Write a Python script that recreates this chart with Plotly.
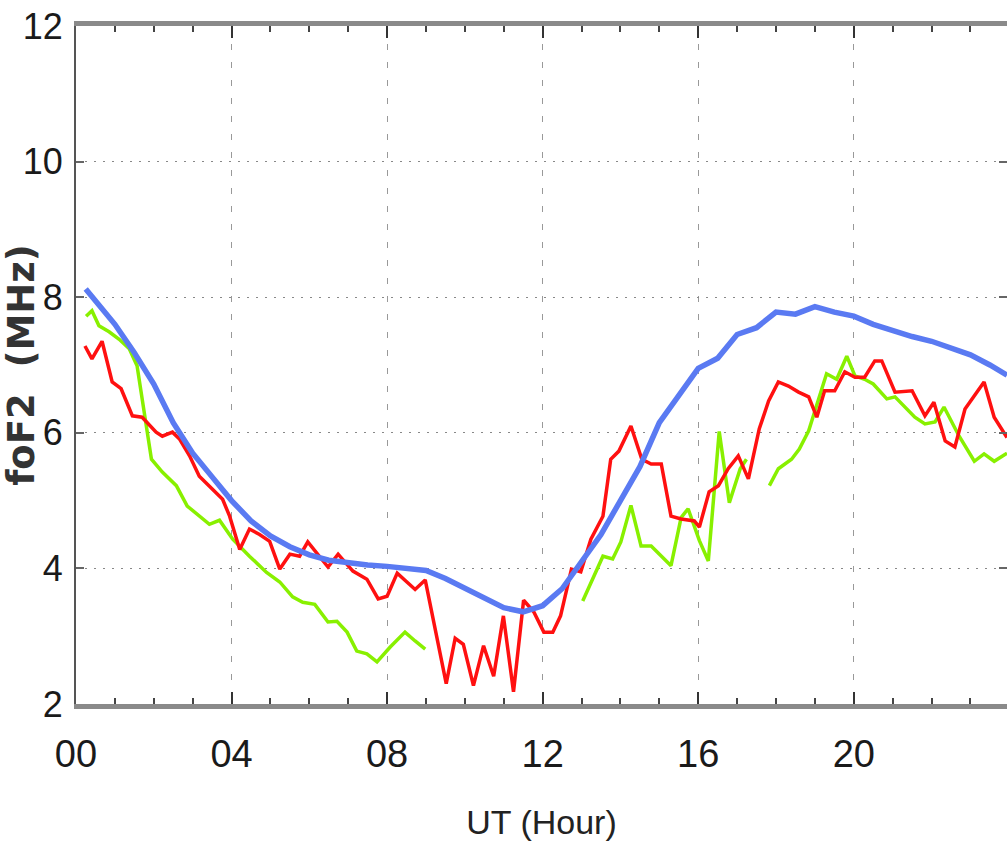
import plotly.graph_objects as go

# ---- data (UT hour, foF2 MHz) ----
blue_hours = [0.25, 0.5, 1.0, 1.5, 2.0, 2.5, 3.0, 3.5, 4.0, 4.5, 5.0, 5.5, 6.0, 6.5, 7.0, 7.5,
              8.0, 8.5, 9.0, 9.5, 10.0, 10.5, 11.0, 11.5, 12.0, 12.5, 13.0, 13.5, 14.0, 14.5,
              15.0, 15.5, 16.0, 16.5, 17.0, 17.5, 18.0, 18.5, 19.0, 19.5, 20.0, 20.5, 21.0,
              21.5, 22.0, 22.5, 23.0, 23.5, 23.94]
blue_fof2 = [8.12, 7.95, 7.6, 7.18, 6.72, 6.15, 5.7, 5.35, 5.0, 4.7, 4.48, 4.32, 4.2, 4.12, 4.08,
             4.05, 4.03, 4.0, 3.97, 3.85, 3.7, 3.55, 3.42, 3.36, 3.45, 3.7, 4.1, 4.5, 5.0, 5.5,
             6.15, 6.55, 6.95, 7.1, 7.45, 7.55, 7.78, 7.75, 7.86, 7.78, 7.72, 7.6, 7.5, 7.42,
             7.35, 7.25, 7.15, 7.0, 6.85]

red_hours = [0.23, 0.41, 0.67, 0.93, 1.16, 1.45, 1.70, 2.06, 2.22, 2.48, 2.66, 2.92, 3.17, 3.43,
             3.77, 3.95, 4.21, 4.46, 4.72, 4.98, 5.24, 5.50, 5.75, 5.96, 6.48, 6.74, 7.12, 7.48,
             7.77, 8.00, 8.26, 8.72, 8.98, 9.52, 9.75, 9.96, 10.22, 10.48, 10.74, 10.99, 11.25,
             11.51, 11.77, 12.03, 12.26, 12.46, 12.74, 12.98, 13.24, 13.55, 13.75, 13.96, 14.27,
             14.55, 14.79, 15.05, 15.30, 15.56, 15.90, 16.03, 16.28, 16.52, 16.77, 17.03, 17.29,
             17.57, 17.81, 18.06, 18.32, 18.58, 18.84, 19.05, 19.25, 19.51, 19.77, 20.03, 20.28,
             20.54, 20.72, 21.06, 21.50, 21.83, 22.06, 22.35, 22.60, 22.86, 23.35, 23.61, 23.94]
red_fof2 = [7.28, 7.09, 7.35, 6.75, 6.65, 6.25, 6.23, 6.01, 5.95, 6.01, 5.91, 5.66, 5.36, 5.22,
            5.02, 4.77, 4.28, 4.58, 4.50, 4.40, 3.99, 4.21, 4.18, 4.39, 4.02, 4.21, 3.96, 3.84,
            3.55, 3.59, 3.93, 3.69, 3.83, 2.30, 2.97, 2.88, 2.27, 2.86, 2.41, 3.30, 2.18, 3.53,
            3.36, 3.06, 3.06, 3.30, 3.99, 3.95, 4.43, 4.77, 5.61, 5.73, 6.10, 5.61, 5.54, 5.54,
            4.77, 4.73, 4.70, 4.61, 5.13, 5.22, 5.47, 5.66, 5.32, 6.06, 6.47, 6.75, 6.69, 6.60,
            6.53, 6.23, 6.62, 6.62, 6.90, 6.82, 6.82, 7.06, 7.06, 6.60, 6.62, 6.25, 6.45, 5.88,
            5.79, 6.35, 6.75, 6.23, 5.93]

green_hours = [0.26, 0.41, 0.59, 0.85, 1.11, 1.37, 1.57, 1.81, 1.94, 2.22, 2.58, 2.86, 3.17, 3.43,
               3.69, 4.03, 4.46, 4.90, 5.24, 5.57, 5.83, 6.14, 6.48, 6.71, 6.97, 7.22, 7.48, 7.74,
               8.08, 8.46, 8.72, 8.98, None,
               13.03, 13.29, 13.55, 13.80, 14.01, 14.27, 14.53, 14.79, 15.30, 15.56, 15.74, 16.03,
               16.26, 16.54, 16.80, 17.08, 17.24, None,
               17.83, 18.06, 18.40, 18.60, 18.84, 19.10, 19.30, 19.56, 19.82, 20.03, 20.28, 20.50,
               20.85, 21.06, 21.57, 21.83, 22.09, 22.32, 22.71, 23.10, 23.35, 23.61, 23.94]
green_fof2 = [7.72, 7.80, 7.58, 7.49, 7.38, 7.24, 6.99, 6.06, 5.61, 5.42, 5.22, 4.92, 4.77, 4.65,
              4.71, 4.43, 4.18, 3.94, 3.80, 3.58, 3.50, 3.47, 3.21, 3.22, 3.06, 2.78, 2.74, 2.62,
              2.84, 3.06, 2.93, 2.81, None,
              3.52, 3.84, 4.18, 4.14, 4.39, 4.93, 4.33, 4.33, 4.04, 4.75, 4.88, 4.41, 4.11, 6.02,
              4.97, 5.47, 5.61, None,
              5.22, 5.47, 5.61, 5.76, 6.03, 6.50, 6.87, 6.79, 7.13, 6.84, 6.79, 6.72, 6.50, 6.53,
              6.23, 6.13, 6.16, 6.38, 5.95, 5.58, 5.69, 5.58, 5.70]

x_tick_vals = [0, 4, 8, 12, 16, 20]
x_tick_text = ["00", "04", "08", "12", "16", "20"]
y_tick_vals = [2, 4, 6, 8, 10, 12]

NARROW = "Liberation Sans Narrow, Arial Narrow, Liberation Sans, Arial, sans-serif"

fig = go.Figure()
fig.add_trace(go.Scatter(x=green_hours, y=green_fof2, mode="lines", connectgaps=False,
                         line=dict(color="#88f000", width=3.5), showlegend=False))
fig.add_trace(go.Scatter(x=red_hours, y=red_fof2, mode="lines",
                         line=dict(color="#ff1010", width=3.5), showlegend=False))
fig.add_trace(go.Scatter(x=blue_hours, y=blue_fof2, mode="lines",
                         line=dict(color="#5a7af2", width=5.5), showlegend=False))

fig.update_layout(
    width=1007, height=855,
    margin=dict(l=76, r=0, t=26, b=151, autoexpand=False),
    paper_bgcolor="white", plot_bgcolor="white",
    xaxis=dict(
        range=[0, 23.94], automargin=False,
        tickmode="array", tickvals=x_tick_vals, ticktext=x_tick_text,
        ticks="inside", ticklen=12, tickwidth=2, tickcolor="#333",
        showline=True, linecolor="#8a8a8a", linewidth=5, mirror="allticks",
        showgrid=True, gridcolor="#999", gridwidth=1, griddash="6px,12px",
        zeroline=False,
        tickfont=dict(family=NARROW, size=38, color="#1a1a1a"),
        ticklabelstandoff=12,
        minor=dict(tickmode="linear", tick0=0, dtick=1, ticks="inside",
                   ticklen=6, tickwidth=1.5, tickcolor="#444", showgrid=False),
        title=dict(text="UT (Hour)", font=dict(family=NARROW, size=34, color="#222"),
                   standoff=38),
    ),
    yaxis=dict(
        range=[2, 12], automargin=False,
        tickmode="array", tickvals=y_tick_vals,
        ticks="inside", ticklen=8, tickwidth=2, tickcolor="#666",
        showline=True, linecolor="#555", linewidth=2, mirror="allticks",
        showgrid=True, gridcolor="#888", gridwidth=1.2, griddash="2px,7px",
        zeroline=False,
        tickfont=dict(family=NARROW, size=36, color="#1a1a1a"),
        ticklabelstandoff=4,
        title=dict(text="foF2  (MHz)",
                   font=dict(family="DejaVu Sans, Liberation Sans, sans-serif",
                             size=37, color="#333", weight="bold"),
                   standoff=1),
    ),
)

fig.write_html(
    "out.html",
    config={"displayModeBar": False},
    post_script="document.body.style.margin='0';document.body.style.padding='0';"
                "document.body.style.overflow='hidden';"
                "document.documentElement.style.overflow='hidden';",
)
